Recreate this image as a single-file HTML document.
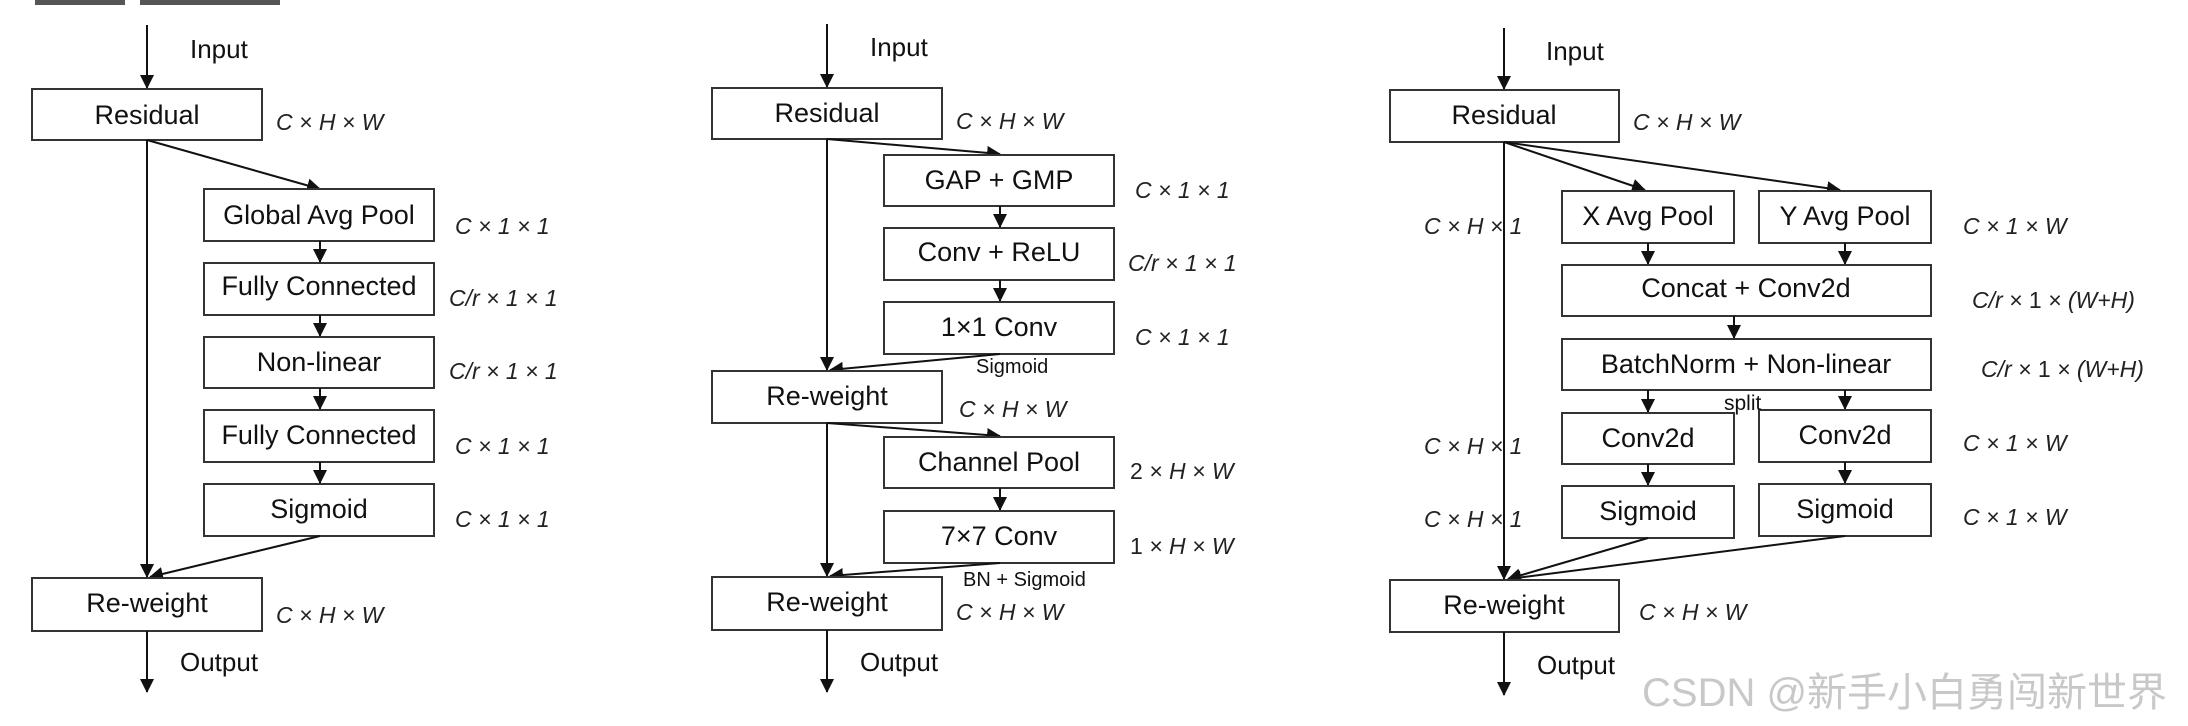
<!DOCTYPE html>
<html><head><meta charset="utf-8"><style>
html,body{margin:0;padding:0;background:#fff;}
svg{display:block;}
text{font-family:"Liberation Sans",Arial,sans-serif;fill:#111;}
.b{font-size:27px;text-anchor:middle;}
.l{font-size:23px;font-style:italic;fill:#222;}
.s{font-size:20px;}
rect{fill:#fff;stroke:#333;stroke-width:2;}
line{stroke:#111;stroke-width:2;}
</style></head><body>
<svg width="2188" height="726" viewBox="0 0 2188 726" xmlns="http://www.w3.org/2000/svg">
<defs><marker id="a" markerWidth="14" markerHeight="14" refX="13" refY="7" orient="auto" markerUnits="userSpaceOnUse"><path d="M0,0 L14,7 L0,14 Z" fill="#111"/></marker></defs>
<rect x="35" y="-2" width="90" height="7" style="fill:#555;stroke:none"/>
<rect x="140" y="-2" width="140" height="7" style="fill:#555;stroke:none"/>

<!-- Panel 1 -->
<line x1="147" y1="25" x2="147" y2="88" marker-end="url(#a)"/>
<text x="190" y="58" style="font-size:26px">Input</text>
<rect x="32" y="89" width="230" height="51"/><text class="b" x="147" y="124">Residual</text>
<text class="l" x="276" y="130">C × H × W</text>
<line x1="147" y1="140" x2="147" y2="577" marker-end="url(#a)"/>
<line x1="147" y1="140" x2="320" y2="189" marker-end="url(#a)"/>
<rect x="204" y="189" width="230" height="52"/><text class="b" x="319" y="224">Global Avg Pool</text>
<text class="l" x="455" y="234">C × 1 × 1</text>
<line x1="320" y1="241" x2="320" y2="262" marker-end="url(#a)"/>
<rect x="204" y="263" width="230" height="52"/><text class="b" x="319" y="295">Fully Connected</text>
<text class="l" x="449" y="306">C/r × 1 × 1</text>
<line x1="320" y1="315" x2="320" y2="336" marker-end="url(#a)"/>
<rect x="204" y="337" width="230" height="51"/><text class="b" x="319" y="371">Non-linear</text>
<text class="l" x="449" y="379">C/r × 1 × 1</text>
<line x1="320" y1="388" x2="320" y2="409" marker-end="url(#a)"/>
<rect x="204" y="410" width="230" height="52"/><text class="b" x="319" y="444">Fully Connected</text>
<text class="l" x="455" y="454">C × 1 × 1</text>
<line x1="320" y1="462" x2="320" y2="483" marker-end="url(#a)"/>
<rect x="204" y="484" width="230" height="52"/><text class="b" x="319" y="518">Sigmoid</text>
<text class="l" x="455" y="527">C × 1 × 1</text>
<line x1="320" y1="536" x2="150" y2="577" marker-end="url(#a)"/>
<rect x="32" y="578" width="230" height="53"/><text class="b" x="147" y="612">Re-weight</text>
<text class="l" x="276" y="623">C × H × W</text>
<line x1="147" y1="631" x2="147" y2="692" marker-end="url(#a)"/>
<text x="180" y="671" style="font-size:26px">Output</text>

<!-- Panel 2 -->
<line x1="827" y1="24" x2="827" y2="87" marker-end="url(#a)"/>
<text x="870" y="56" style="font-size:26px">Input</text>
<rect x="712" y="88" width="230" height="51"/><text class="b" x="827" y="122">Residual</text>
<text class="l" x="956" y="129">C × H × W</text>
<line x1="827" y1="139" x2="827" y2="370" marker-end="url(#a)"/>
<line x1="827" y1="139" x2="1000" y2="154" marker-end="url(#a)"/>
<rect x="884" y="155" width="230" height="51"/><text class="b" x="999" y="189">GAP + GMP</text>
<text class="l" x="1135" y="198">C × 1 × 1</text>
<line x1="1000" y1="206" x2="1000" y2="227" marker-end="url(#a)"/>
<rect x="884" y="228" width="230" height="52"/><text class="b" x="999" y="261">Conv + ReLU</text>
<text class="l" x="1128" y="271">C/r × 1 × 1</text>
<line x1="1000" y1="280" x2="1000" y2="301" marker-end="url(#a)"/>
<rect x="884" y="302" width="230" height="52"/><text class="b" x="999" y="336">1×1 Conv</text>
<text class="l" x="1135" y="345">C × 1 × 1</text>
<line x1="1000" y1="354" x2="830" y2="370" marker-end="url(#a)"/>
<text class="s" x="976" y="373">Sigmoid</text>
<rect x="712" y="371" width="230" height="52"/><text class="b" x="827" y="405">Re-weight</text>
<text class="l" x="959" y="417">C × H × W</text>
<line x1="827" y1="423" x2="827" y2="576" marker-end="url(#a)"/>
<line x1="827" y1="423" x2="1000" y2="436" marker-end="url(#a)"/>
<rect x="884" y="437" width="230" height="51"/><text class="b" x="999" y="471">Channel Pool</text>
<text class="l" x="1130" y="479"><tspan style="font-style:normal">2</tspan> × H × W</text>
<line x1="1000" y1="488" x2="1000" y2="510" marker-end="url(#a)"/>
<rect x="884" y="511" width="230" height="52"/><text class="b" x="999" y="545">7×7 Conv</text>
<text class="l" x="1130" y="554"><tspan style="font-style:normal">1</tspan> × H × W</text>
<line x1="1000" y1="563" x2="830" y2="576" marker-end="url(#a)"/>
<text class="s" x="963" y="586">BN + Sigmoid</text>
<rect x="712" y="577" width="230" height="53"/><text class="b" x="827" y="611">Re-weight</text>
<text class="l" x="956" y="620">C × H × W</text>
<line x1="827" y1="630" x2="827" y2="692" marker-end="url(#a)"/>
<text x="860" y="671" style="font-size:26px">Output</text>

<!-- Panel 3 -->
<line x1="1504" y1="28" x2="1504" y2="89" marker-end="url(#a)"/>
<text x="1546" y="60" style="font-size:26px">Input</text>
<rect x="1390" y="90" width="229" height="52"/><text class="b" x="1504" y="124">Residual</text>
<text class="l" x="1633" y="130">C × H × W</text>
<line x1="1504" y1="142" x2="1504" y2="579" marker-end="url(#a)"/>
<line x1="1504" y1="142" x2="1645" y2="190" marker-end="url(#a)"/>
<line x1="1504" y1="142" x2="1840" y2="190" marker-end="url(#a)"/>
<text class="l" x="1424" y="234">C × H × 1</text>
<text class="l" x="1424" y="454">C × H × 1</text>
<text class="l" x="1424" y="527">C × H × 1</text>
<rect x="1562" y="191" width="172" height="52"/><text class="b" x="1648" y="225">X Avg Pool</text>
<rect x="1759" y="191" width="172" height="52"/><text class="b" x="1845" y="225">Y Avg Pool</text>
<text class="l" x="1963" y="234">C × 1 × W</text>
<line x1="1648" y1="243" x2="1648" y2="264" marker-end="url(#a)"/>
<line x1="1845" y1="243" x2="1845" y2="264" marker-end="url(#a)"/>
<rect x="1562" y="265" width="369" height="51"/><text class="b" x="1746" y="297">Concat + Conv2d</text>
<text class="l" x="1972" y="308">C/r × <tspan style="font-style:normal">1</tspan> × (W+H)</text>
<line x1="1734" y1="316" x2="1734" y2="338" marker-end="url(#a)"/>
<rect x="1562" y="339" width="369" height="51"/><text class="b" x="1746" y="373">BatchNorm + Non-linear</text>
<text class="l" x="1981" y="377">C/r × <tspan style="font-style:normal">1</tspan> × (W+H)</text>
<line x1="1648" y1="390" x2="1648" y2="412" marker-end="url(#a)"/>
<line x1="1845" y1="390" x2="1845" y2="409" marker-end="url(#a)"/>
<rect x="1562" y="413" width="172" height="51"/><text class="b" x="1648" y="447">Conv2d</text>
<rect x="1759" y="410" width="172" height="52"/><text class="b" x="1845" y="444">Conv2d</text>
<text class="s" x="1724" y="410" style="font-size:21px">split</text>
<text class="l" x="1963" y="451">C × 1 × W</text>
<line x1="1648" y1="464" x2="1648" y2="485" marker-end="url(#a)"/>
<line x1="1845" y1="462" x2="1845" y2="483" marker-end="url(#a)"/>
<rect x="1562" y="486" width="172" height="52"/><text class="b" x="1648" y="520">Sigmoid</text>
<rect x="1759" y="484" width="172" height="52"/><text class="b" x="1845" y="518">Sigmoid</text>
<text class="l" x="1963" y="525">C × 1 × W</text>
<line x1="1648" y1="538" x2="1508" y2="579" marker-end="url(#a)"/>
<line x1="1845" y1="536" x2="1508" y2="579" marker-end="url(#a)"/>
<rect x="1390" y="580" width="229" height="52"/><text class="b" x="1504" y="614">Re-weight</text>
<text class="l" x="1639" y="620">C × H × W</text>
<line x1="1504" y1="632" x2="1504" y2="695" marker-end="url(#a)"/>
<text x="1537" y="674" style="font-size:26px">Output</text>
<text x="1642" y="706" style="font-size:40px;fill:#c8c8c8;font-family:'Liberation Sans','Noto Sans CJK SC',sans-serif">CSDN @新手小白勇闯新世界</text>
</svg>
</body></html>
